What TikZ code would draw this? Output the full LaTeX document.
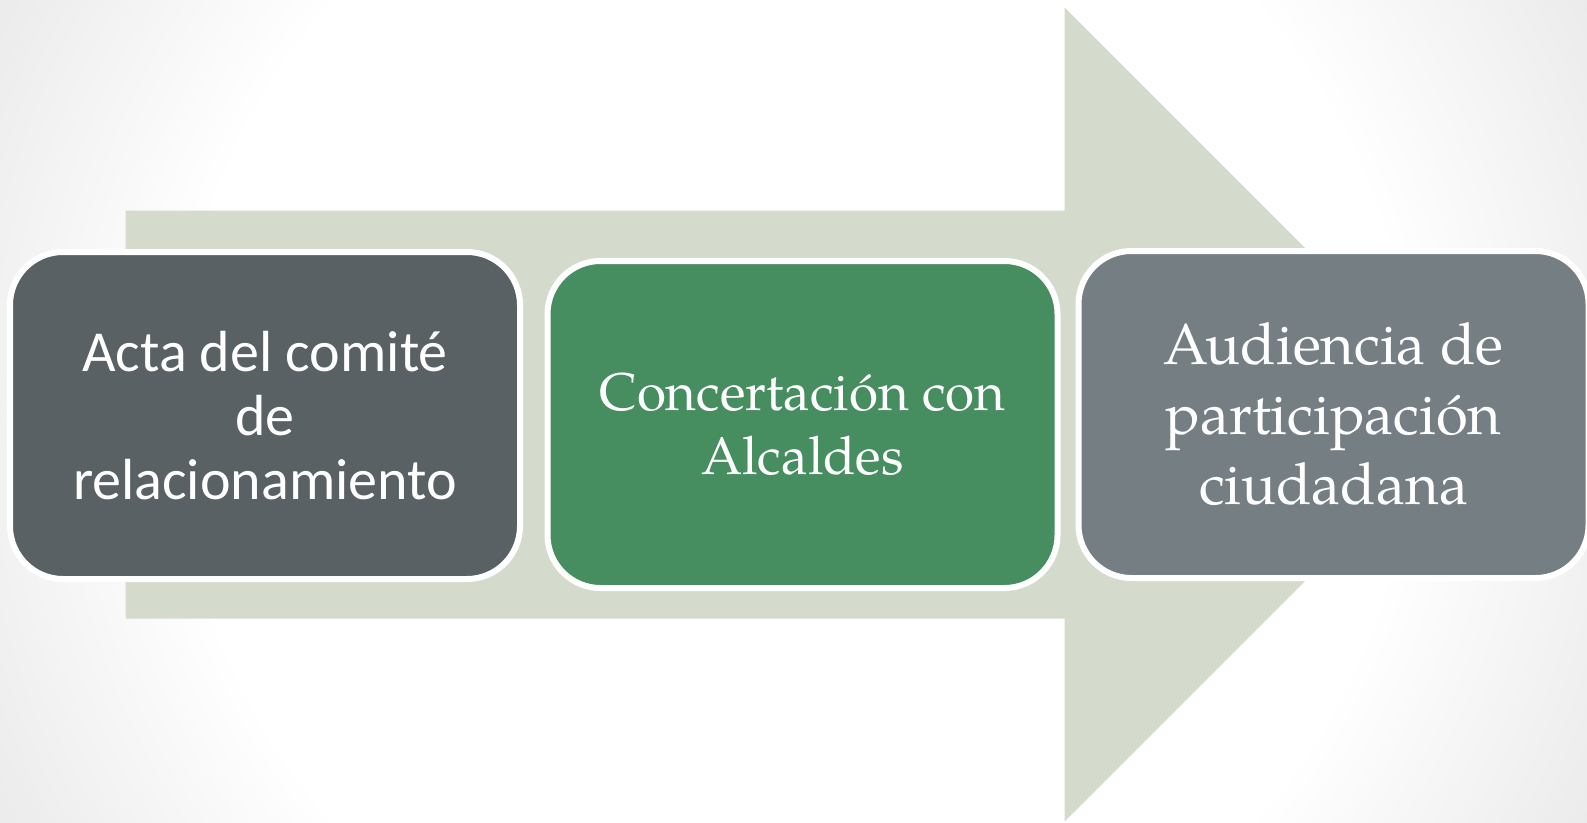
\documentclass[tikz,border=0pt]{standalone}
\usepackage{fontspec}
\setmainfont{Carlito}
\newfontfamily\palafont{TeX Gyre Pagella}
\usepackage{tikz}
\usetikzlibrary{calc}
\definecolor{arrowgreen}{RGB}{212,219,204}
\definecolor{actagray}{RGB}{89,97,100}
\definecolor{concertgreen}{RGB}{70,142,95}
\definecolor{audigray}{RGB}{116,126,131}
\pgfdeclareradialshading{backglow}{\pgfpoint{0bp}{0bp}}{color(0bp)=(white); color(17bp)=(white); color(25bp)=(black!8); color(50bp)=(black!8)}
\newcommand\actafont{\fontsize{58}{64}\selectfont}
\newcommand\concertfont{\palafont\fontsize{53}{64}\selectfont}
\newcommand\audifont{\palafont\fontsize{58}{70}\selectfont}
\tikzset{
    stepbox/.style={draw=white, line width=6pt, rounded corners=53pt, minimum width=510pt, minimum height=327pt, text=white, align=center, inner sep=0pt}
}

\begin{document}
\begin{tikzpicture}[x=1pt,y=-1pt]
\useasboundingbox (0,0) rectangle (1587,822);
\begin{scope}
\clip (0,0) rectangle (1587,822);
\shade[shading=backglow] (793.5,411) circle (900);
\end{scope}
% big arrow behind the steps
\fill[arrowgreen] (125.5,210.5) -- (1064.5,210.5) -- (1064.5,7.5) -- (1471.5,414.5) -- (1064.5,821.5) -- (1064.5,618.5) -- (125.5,618.5) -- cycle;
\foreach \p/\x/\y/\col/\fnt/\txt in {acta/265/415.5/actagray/\actafont/{Acta del comité\\de\\relacionamiento}, concert/802.5/424.5/concertgreen/\concertfont/{Concertación con\\Alcaldes}, audiencia/1333.5/414.5/audigray/\audifont/{Audiencia de\\participación\\ciudadana}}{
    \node[stepbox, fill=\col, font=\fnt] (\p) at (\x,\y) {\txt};
}
\end{tikzpicture}
\end{document}
